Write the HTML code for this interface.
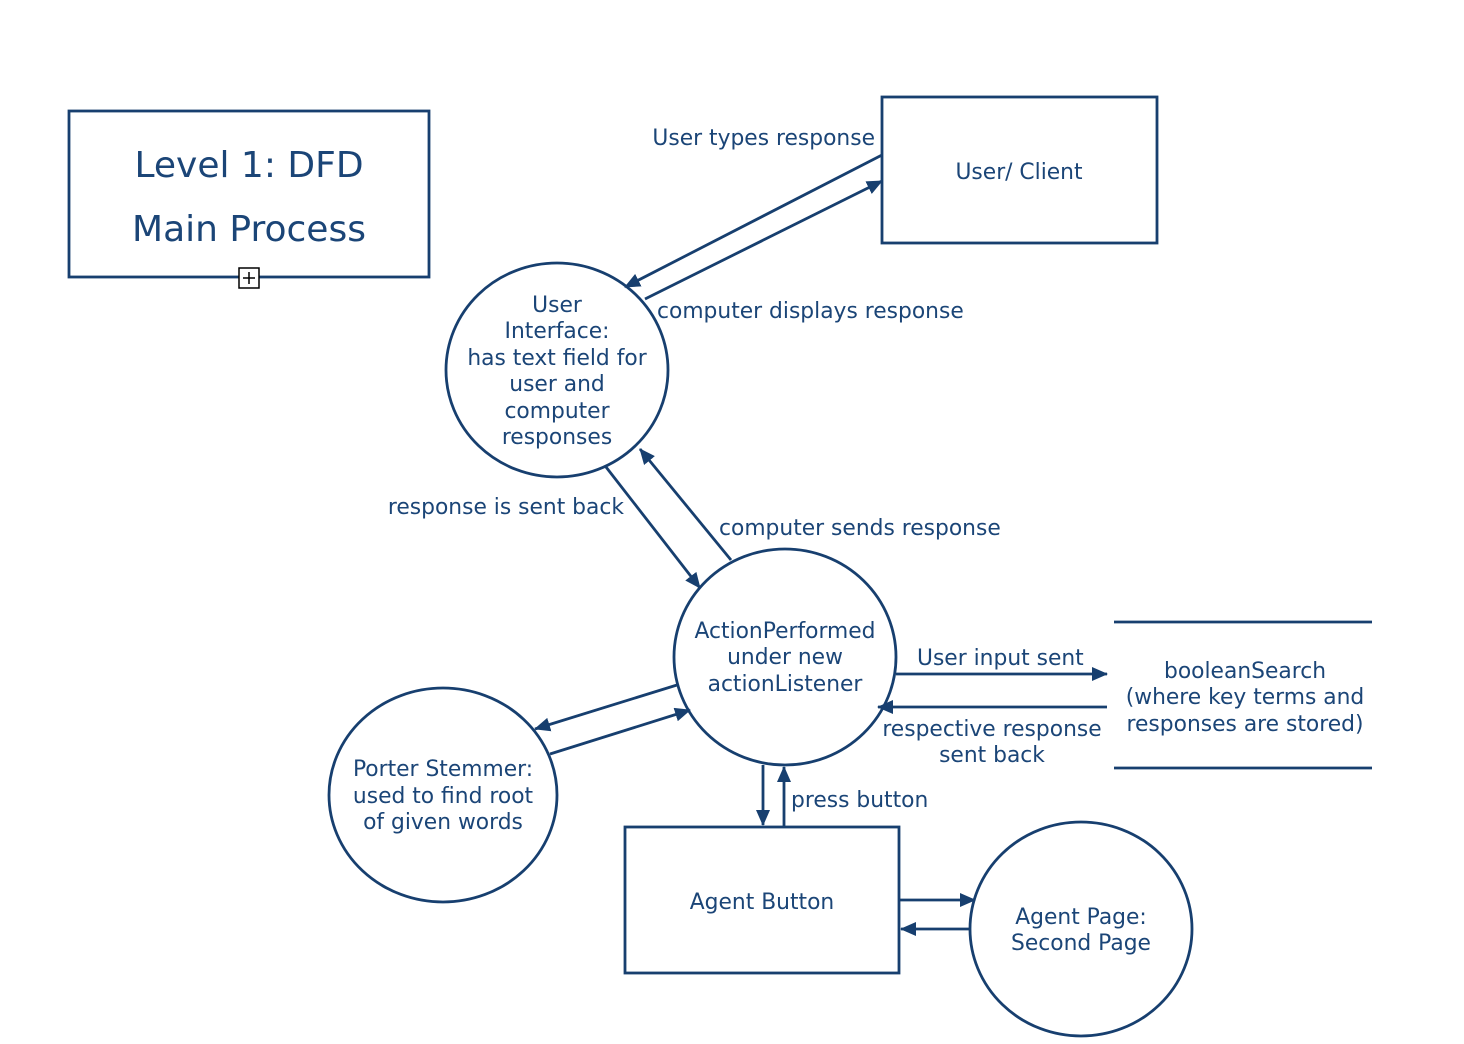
<!DOCTYPE html>
<html><head><meta charset="utf-8"><style>
html,body{margin:0;padding:0;background:#fff;}
svg{display:block;}
text{font-family:"DejaVu Sans","Liberation Sans",sans-serif;font-size:21.8px;fill:#1b4577;}
</style></head><body>
<svg width="1464" height="1044" viewBox="0 0 1464 1044" xmlns="http://www.w3.org/2000/svg">
<defs>
<marker id="a" markerUnits="userSpaceOnUse" markerWidth="16" markerHeight="14" refX="15" refY="7" orient="auto">
<path d="M0,0 L16,7 L0,14 Z" fill="#173f6f"/>
</marker>
</defs>
<g fill="none" stroke="#173f6f" stroke-width="2.8">
<rect x="69" y="111" width="360" height="166"/>
<rect x="882" y="97" width="275" height="146"/>
<rect x="625" y="827" width="274" height="146"/>
<ellipse cx="557" cy="370" rx="111" ry="107"/>
<ellipse cx="785" cy="657" rx="111" ry="108"/>
<ellipse cx="443" cy="795" rx="114" ry="107"/>
<ellipse cx="1081" cy="929" rx="111" ry="107"/>
<line x1="1114" y1="622" x2="1372" y2="622"/>
<line x1="1114" y1="768" x2="1372" y2="768"/>
<line x1="882" y1="155" x2="625" y2="287" marker-end="url(#a)"/>
<line x1="645" y1="299" x2="882" y2="181" marker-end="url(#a)"/>
<line x1="606" y1="467" x2="700" y2="588" marker-end="url(#a)"/>
<line x1="731" y1="560" x2="640" y2="449" marker-end="url(#a)"/>
<line x1="896" y1="674" x2="1107" y2="674" marker-end="url(#a)"/>
<line x1="1107" y1="707" x2="878" y2="707" marker-end="url(#a)"/>
<line x1="677" y1="685" x2="535" y2="729" marker-end="url(#a)"/>
<line x1="550" y1="754" x2="690" y2="710" marker-end="url(#a)"/>
<line x1="763" y1="765" x2="763" y2="825" marker-end="url(#a)"/>
<line x1="784" y1="827" x2="784" y2="767" marker-end="url(#a)"/>
<line x1="899" y1="900" x2="975" y2="900" marker-end="url(#a)"/>
<line x1="969" y1="929" x2="901" y2="929" marker-end="url(#a)"/>
</g>
<rect x="239" y="268" width="20" height="20" fill="#fff" stroke="#000" stroke-width="1.5"/>
<line x1="243" y1="278" x2="255" y2="278" stroke="#000" stroke-width="1.5"/>
<line x1="249" y1="272" x2="249" y2="284" stroke="#000" stroke-width="1.5"/>
<g text-anchor="middle">
<text x="249" y="177" style="font-size:36px">Level 1: DFD</text>
<text x="249" y="241" style="font-size:36px">Main Process</text>
<text x="1019" y="179">User/ Client</text>
<text x="557" y="312">User</text>
<text x="557" y="338">Interface:</text>
<text x="557" y="365">has text field for</text>
<text x="557" y="391">user and</text>
<text x="557" y="418">computer</text>
<text x="557" y="444">responses</text>
<text x="785" y="638">ActionPerformed</text>
<text x="785" y="664">under new</text>
<text x="785" y="691">actionListener</text>
<text x="443" y="776">Porter Stemmer:</text>
<text x="443" y="803">used to find root</text>
<text x="443" y="829">of given words</text>
<text x="1081" y="924">Agent Page:</text>
<text x="1081" y="950">Second Page</text>
<text x="762" y="909">Agent Button</text>
<text x="1245" y="678">booleanSearch</text>
<text x="1245" y="704">(where key terms and</text>
<text x="1245" y="731">responses are stored)</text>
<text x="992" y="736">respective response</text>
<text x="992" y="762">sent back</text>
</g>
<text x="875" y="145" text-anchor="end">User types response</text>
<text x="657" y="318">computer displays response</text>
<text x="624" y="514" text-anchor="end">response is sent back</text>
<text x="719" y="535">computer sends response</text>
<text x="917" y="665">User input sent</text>
<text x="791" y="807">press button</text>
</svg>
</body></html>
